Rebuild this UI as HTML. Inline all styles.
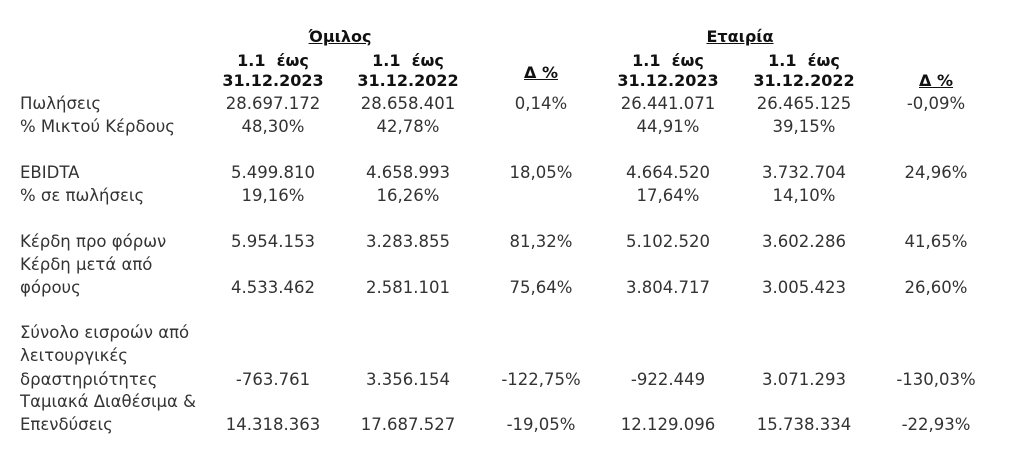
<!DOCTYPE html>
<html><head><meta charset="utf-8">
<style>
body{margin:0;width:1024px;height:464px;background:#fff;position:relative;overflow:hidden;font-family:"DejaVu Sans","Liberation Sans",sans-serif;font-size:16.5px;color:#333;}
.t{position:absolute;white-space:pre;line-height:20px;height:20px;}
.c{transform:translateX(-50%);}
.b{font-weight:bold;color:#111;font-size:16px;}
.u{text-decoration:underline;}
</style></head><body>
<script>
var labels=[["Πωλήσεις",104],["% Μικτού Κέρδους",127],["EBIDTA",173],["% σε πωλήσεις",196],["Κέρδη προ φόρων",242],["Κέρδη μετά από",265],["φόρους",288],["Σύνολο εισροών από",333],["λειτουργικές",356],["δραστηριότητες",380],["Ταμιακά Διαθέσιμα &",402],["Επενδύσεις",425]];
var rowsY=[104,127,173,196,242,288,380,425];
var colX=[273,408,541,668,804,936];
var values=[
["28.697.172","28.658.401","0,14%","26.441.071","26.465.125","-0,09%"],
["48,30%","42,78%","","44,91%","39,15%",""],
["5.499.810","4.658.993","18,05%","4.664.520","3.732.704","24,96%"],
["19,16%","16,26%","","17,64%","14,10%",""],
["5.954.153","3.283.855","81,32%","5.102.520","3.602.286","41,65%"],
["4.533.462","2.581.101","75,64%","3.804.717","3.005.423","26,60%"],
["-763.761","3.356.154","-122,75%","-922.449","3.071.293","-130,03%"],
["14.318.363","17.687.527","-19,05%","12.129.096","15.738.334","-22,93%"]];
function put(txt,x,y,cls,name){
  var d=document.createElement('div');
  d.className='t '+cls;d.textContent=txt;
  d.style.left=x+'px';d.style.top=(y-10)+'px';
  
  
  document.body.appendChild(d);
}
put("Όμιλος",340,37,"c b u","group-header");
put("Εταιρία",740,37,"c b u","company-header");
var hdr=[["1.1  έως","31.12.2023"],["1.1  έως","31.12.2022"]];
[0,1,3,4].forEach(function(ci,k){
  var h=hdr[k%2];
  put(h[0],colX[ci],61,"c b","period-header-line1");
  put(h[1],colX[ci],81,"c b","period-header-line2");
});
put("Δ %",colX[2],73,"c b u","delta-header");
put("Δ %",colX[5],81,"c b u","delta-header");
labels.forEach(function(l){put(l[0],20,l[1],"","row-label");});
values.forEach(function(r,ri){
  r.forEach(function(v,ci){ if(v) put(v,colX[ci],rowsY[ri],"c","cell-value"); });
});
</script>
</body></html>
